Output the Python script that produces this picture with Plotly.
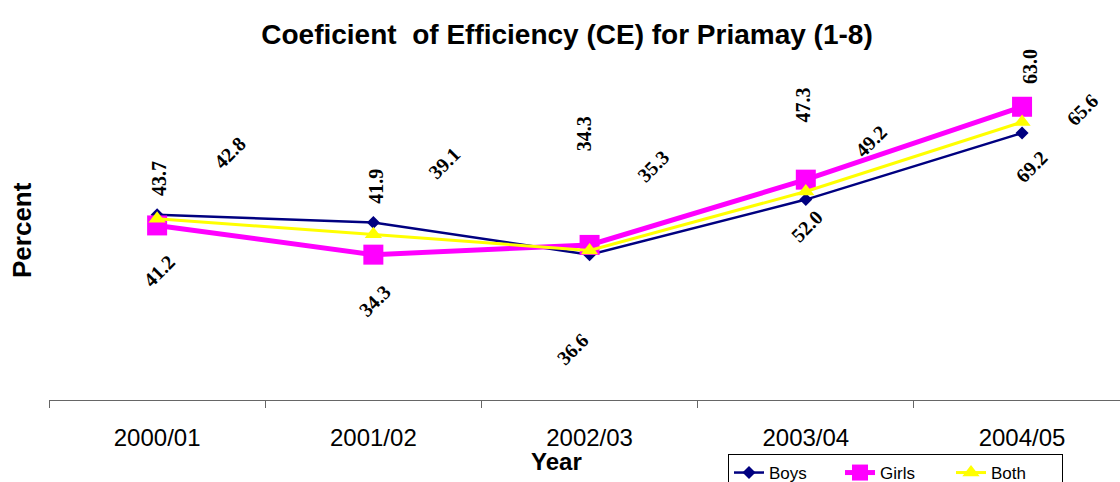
import plotly.graph_objects as go

years = ["2000/01", "2001/02", "2002/03", "2003/04", "2004/05"]
boys = [43.7, 41.9, 34.3, 47.3, 63.0]
girls = [41.2, 34.3, 36.6, 52.0, 69.2]
both = [42.8, 39.1, 35.3, 49.2, 65.6]

# label placement offsets (pixels) relative to each point: (dx, dy up)
boys_off = [(2, 36), (3, 36), (-6, 121), (-3, 95), (8, 66)]
girls_off = [(2, -46), (1, -46), (-17, -104), (1, -46), (9, -60)]
both_off = [(72, 66), (71, 71), (64, 84), (65, 51), (60, 12)]

fig = go.Figure()
fig.add_trace(go.Scatter(x=years, y=boys, name="Boys", mode="lines+markers",
                         line=dict(color="#000080", width=2.5),
                         marker=dict(symbol="diamond", size=10, color="#000080")))
fig.add_trace(go.Scatter(x=years, y=girls, name="Girls", mode="lines+markers",
                         line=dict(color="#FF00FF", width=5),
                         marker=dict(symbol="square", size=20, color="#FF00FF")))
fig.add_trace(go.Scatter(x=years, y=both, name="Both", mode="lines+markers",
                         line=dict(color="#FFFF00", width=3),
                         marker=dict(symbol="triangle-up", size=15, color="#FFFF00")))

lab_font = dict(family="Liberation Serif, Times New Roman, serif", size=20, color="black")
ann = []
for vals, offs, ang in ((boys, boys_off, -90), (girls, girls_off, -45), (both, both_off, -45)):
    for yr, v, (dx, dy) in zip(years, vals, offs):
        ann.append(dict(x=yr, y=v, xref="x", yref="y", text="<b>%.1f</b>" % v,
                        showarrow=False, textangle=ang, xshift=dx, yshift=dy,
                        font=lab_font, xanchor="center", yanchor="middle"))

L, R, T, B = 49, 1120, 61, 400


def px_to_paper(px, py):
    return (px - L) / (R - L), (B - py) / (B - T)


yx, yy = px_to_paper(556, 461)
ann.append(dict(x=yx, y=yy, xref="paper", yref="paper", text="<b>Year</b>",
                xanchor="center", yanchor="middle",
                showarrow=False, font=dict(family="Liberation Sans, Arial", size=24, color="black")))
px_, py_ = px_to_paper(22, 230)
ann.append(dict(x=px_, y=py_, xref="paper", yref="paper", text="<b>Percent</b>", showarrow=False,
                xanchor="center", yanchor="middle",
                textangle=-90, font=dict(family="Liberation Sans, Arial", size=26, color="black")))

fig.update_layout(
    width=1120, height=482,
    margin=dict(l=L, r=1120 - R, t=T, b=482 - B, autoexpand=False),
    paper_bgcolor="white", plot_bgcolor="white",
    title=dict(text="<b>Coeficient\u00a0 of Efficiency (CE) for Priamay (1-8)</b>",
               x=(567 - L) / (R - L), xref="paper", xanchor="center",
               y=1 - 34 / 482, yref="container", yanchor="middle",
               font=dict(family="Liberation Sans, Arial", size=28, color="black")),
    xaxis=dict(type="category", range=[-0.5, 4.453], showline=True, linecolor="#666666",
               linewidth=1.2, ticks="outside", tickson="boundaries", ticklen=7,
               tickcolor="#666666", showgrid=False, zeroline=False, automargin=False,
               ticklabelstandoff=16,
               tickfont=dict(family="Liberation Sans, Arial", size=24, color="black")),
    yaxis=dict(range=[0, 80], showticklabels=False, showgrid=False, zeroline=False,
               showline=False, ticks="", automargin=False),
    showlegend=True,
    legend=dict(orientation="h", x=728 / 1120, y=1 - 454 / 482,
                xref="container", yref="container", entrywidth=66, entrywidthmode="pixels",
                xanchor="left", yanchor="top", bordercolor="black", borderwidth=1,
                bgcolor="white", font=dict(family="Liberation Sans, Arial", size=17, color="black")),
    annotations=ann,
)

fig.write_html("out.html", config={"displayModeBar": False},
               post_script="document.body.style.margin='0px';document.body.style.overflow='hidden';")
